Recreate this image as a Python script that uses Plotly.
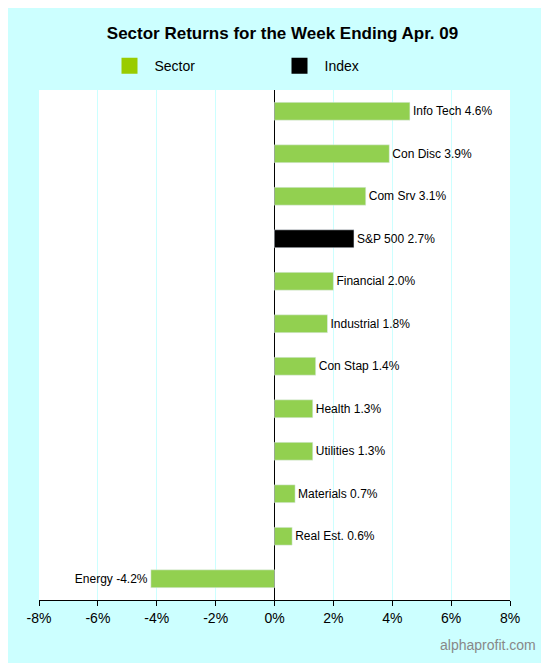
import plotly.graph_objects as go

sectors = ["Energy", "Real Est.", "Materials", "Utilities", "Health", "Con Stap",
           "Industrial", "Financial", "S&P 500", "Com Srv", "Con Disc", "Info Tech"]
returns = [-4.2, 0.6, 0.7, 1.3, 1.3, 1.4, 1.8, 2.0, 2.7, 3.1, 3.9, 4.6]
tick_vals = [-8, -6, -4, -2, 0, 2, 4, 6, 8]
tick_text = ["-8%", "-6%", "-4%", "-2%", "0%", "2%", "4%", "6%", "8%"]

colors = ["#000000" if s == "S&P 500" else "#92d050" for s in sectors]
labels = [f"{s} {v:.1f}%" for s, v in zip(sectors, returns)]

fig = go.Figure()
fig.add_trace(go.Bar(x=returns, y=sectors, orientation="h", marker_color=colors,
                     width=0.42, text=labels, textposition="outside",
                     textfont=dict(size=12, color="black"), cliponaxis=False,
                     showlegend=False, hoverinfo="skip"))
for name, c in [("Sector", "#99cc00"), ("Index", "#000000")]:
    fig.add_trace(go.Scatter(x=[None], y=[None], mode="markers", name=name,
                             marker=dict(symbol="square", size=20, color=c)))

fig.update_layout(
    width=549, height=663,
    paper_bgcolor="#ccffff", plot_bgcolor="white",
    margin=dict(l=31, r=47, t=82, b=71),
    font=dict(family="Liberation Sans, Arial", size=13, color="black"),
    title=dict(text="<b>Sector Returns for the Week Ending Apr. 09</b>", x=0.5, y=0.962,
               xanchor="center", yanchor="middle", font=dict(size=17)),
    legend=dict(orientation="h", x=0.5, xanchor="center", y=1.047, yanchor="middle",
                font=dict(size=14), bgcolor="rgba(0,0,0,0)", entrywidth=115,
                itemwidth=40),
    xaxis=dict(range=[-8, 8], tickvals=tick_vals, ticktext=tick_text,
               showgrid=True, gridcolor="#ccffff", zeroline=True, zerolinecolor="black",
               zerolinewidth=1, showline=True, linecolor="black", ticks="outside",
               ticklen=5, tickcolor="black", tickfont=dict(size=14)),
    yaxis=dict(showticklabels=False, showgrid=False, range=[-0.5, 11.5]),
    annotations=[dict(text="alphaprofit.com", xref="paper", yref="paper", x=1.059, y=-0.088,
                      xanchor="right", yanchor="middle", showarrow=False,
                      font=dict(size=14, color="#888888"))],
)
fig.write_html("out.html")
